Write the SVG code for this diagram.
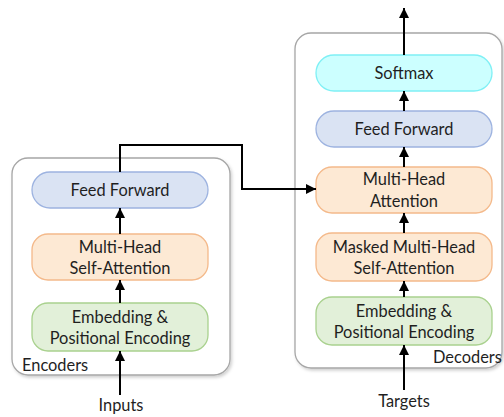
<svg xmlns="http://www.w3.org/2000/svg" width="504" height="417" viewBox="0 0 504 417">
<defs>
<marker id="ah" viewBox="0 0 10 10" refX="10" refY="5" markerWidth="5.5" markerHeight="5" orient="auto" markerUnits="strokeWidth">
<path d="M0,0 L10,5 L0,10 z" fill="#000"/>
</marker>
<filter id="sh" x="-5%" y="-5%" width="115%" height="115%">
<feDropShadow dx="1.5" dy="2" stdDeviation="1.5" flood-color="#000" flood-opacity="0.18"/>
</filter>
</defs>
<style>
text{font-family:Lato,"Open Sans","Liberation Sans",sans-serif;font-size:16.4px;fill:#1f1f1f;text-anchor:middle}
.lbl{text-anchor:start}
.outer{fill:#fff;stroke:#a6a6a6;stroke-width:1.3}
.ff{fill:#dae3f3;stroke:#9db3e0;stroke-width:1.3}
.mh{fill:#fde9d4;stroke:#f4b98a;stroke-width:1.3}
.em{fill:#e2f0d9;stroke:#a9d18e;stroke-width:1.3}
.sm{fill:#ccffff;stroke:#7ff0f5;stroke-width:1.3}
.c{fill:none;stroke:#000;stroke-width:2;marker-end:url(#ah)}
</style>
<g id="encoders">
<rect class="outer" x="12" y="158" width="218" height="217" rx="16" filter="url(#sh)"/>
<text class="lbl" x="22" y="371">Encoders</text>
</g>
<g id="decoders">
<rect class="outer" x="295" y="33" width="207" height="335" rx="16" filter="url(#sh)"/>
<text class="lbl" x="433" y="363">Decoders</text>
</g>
<g id="enc-ff">
<rect class="ff" x="32" y="172" width="176" height="36" rx="18"/>
<text x="120" y="196">Feed Forward</text>
</g>
<g id="enc-mhsa">
<rect class="mh" x="32" y="234" width="176" height="46" rx="16"/>
<text x="120" y="253">Multi-Head</text>
<text x="120" y="274">Self-Attention</text>
</g>
<g id="enc-emb">
<rect class="em" x="32" y="303" width="176" height="48" rx="16"/>
<text x="120" y="323">Embedding &amp;</text>
<text x="120" y="344">Positional Encoding</text>
</g>
<g id="dec-softmax">
<rect class="sm" x="316" y="55" width="176" height="36" rx="18"/>
<text x="404" y="79">Softmax</text>
</g>
<g id="dec-ff">
<rect class="ff" x="316" y="111" width="176" height="36" rx="18"/>
<text x="404" y="135">Feed Forward</text>
</g>
<g id="dec-mha">
<rect class="mh" x="316" y="167" width="176" height="46" rx="16"/>
<text x="404" y="185">Multi-Head</text>
<text x="404" y="207">Attention</text>
</g>
<g id="dec-mmha">
<rect class="mh" x="316" y="233" width="176" height="48" rx="16"/>
<text x="404" y="253">Masked Multi-Head</text>
<text x="404" y="274">Self-Attention</text>
</g>
<g id="dec-emb">
<rect class="em" x="316" y="297" width="176" height="48" rx="16"/>
<text x="404" y="317">Embedding &amp;</text>
<text x="404" y="338">Positional Encoding</text>
</g>
<g id="inputs"><text x="121" y="411">Inputs</text></g>
<g id="targets"><text x="404" y="407">Targets</text></g>
<g id="connectors">
<path class="c" d="M120,395 L120,351"/>
<path class="c" d="M120,303 L120,280"/>
<path class="c" d="M120,234 L120,208"/>
<path class="c" d="M120,172 L120,145 L242,145 L242,189 L316,189"/>
<path class="c" d="M404,390 L404,345"/>
<path class="c" d="M404,297 L404,281"/>
<path class="c" d="M404,233 L404,213"/>
<path class="c" d="M404,167 L404,147"/>
<path class="c" d="M404,111 L404,91"/>
<path class="c" d="M404,55 L404,8"/>
</g>
</svg>
